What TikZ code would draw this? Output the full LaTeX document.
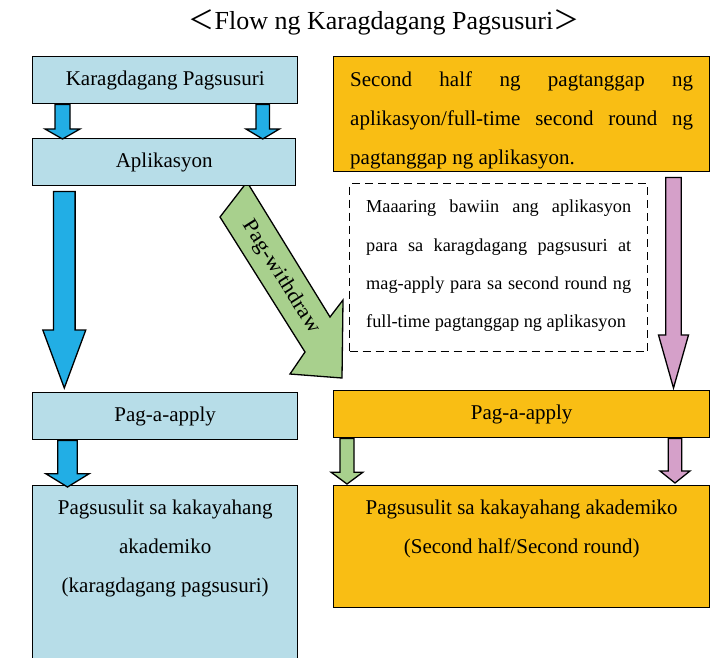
\documentclass[tikz,border=0pt]{standalone}
\usepackage{fontspec}
\setmainfont{Liberation Serif}
\newfontfamily\cjk{Noto Sans CJK JP}
\usepackage{tikz}
\usetikzlibrary{positioning, calc}
\definecolor{boxblue}{HTML}{B7DDE8}
\definecolor{arrowblue}{HTML}{22AEE5}
\definecolor{boxorange}{HTML}{F9BE14}
\definecolor{arrowgreen}{HTML}{A8D08D}
\definecolor{arrowpink}{HTML}{D5A0C9}
\tikzset{every node/.style={ % Sets the properties for each node
    inner sep=0pt,
    font={\fontsize{21}{39}\selectfont}},
    box/.style={draw, line width=1.4pt, anchor=north west},
    bluebox/.style={box, fill=boxblue},
    orangebox/.style={box, fill=boxorange},
    notebox/.style={draw, line width=1.4pt, dash pattern=on 8pt off 5pt, anchor=north west},
    fatarrow/.style={draw, line width=1.3pt, line join=miter}}
% block arrow: start, tip, shaft half width, head half width, head length, colour
\newcommand{\fatarrow}[6]{%
    \draw[fatarrow, fill=#6] ($(#1)+(-#3,0)$) -- ($(#2)+(-#3,-#5)$) -- ($(#2)+(-#4,-#5)$)
        -- (#2) -- ($(#2)+(#4,-#5)$) -- ($(#2)+(#3,-#5)$) -- ($(#1)+(#3,0)$) -- cycle;}

\begin{document}
\begin{tikzpicture}[x=1pt, y=-1pt]
    \useasboundingbox (0,0) rectangle (728,658);
    \node[font={\fontsize{26}{30}\selectfont}] (title) at (384,22)
        {{\cjk ＜}Flow ng Karagdagang Pagsusuri{\cjk ＞}};

    % Withdraw arrow (behind the box)
    \draw[fatarrow, fill=arrowgreen] (247,182) -- (330,317) -- (343,300) -- (342,378)
        -- (290,374) -- (305,352) -- (220,217) -- cycle;
    \node[rotate=-57.7, xscale=1.1] (withdraw) at (281,277) {Pag-withdraw};

    % Left column
    \node[bluebox, minimum width=265, minimum height=47] (kp) at (32,56) {Karagdagang Pagsusuri};
    \node[bluebox, minimum width=263, minimum height=47] (apl) at (32,138) {Aplikasyon};
    \node[bluebox, minimum width=265, minimum height=47] (apply1) at (32,392) {Pag-a-apply};
    \node[bluebox, minimum width=265, minimum height=190] (exam1) at (32,485) {};
    \node[align=center, anchor=north] (exam1text) at ([yshift=-15]exam1.north)
        {Pagsusulit sa kakayahang\\akademiko\\(karagdagang pagsusuri)};

    % Right column
    \node[orangebox, minimum width=376, minimum height=115] (sh) at (333,56) {};
    \node[text width=343, align=justify, anchor=north] (shtext) at ([yshift=-15.5]sh.north)
        {Second half ng pagtanggap ng\linebreak aplikasyon/full-time second round ng\linebreak pagtanggap ng aplikasyon.};
    \node[notebox, minimum width=298, minimum height=168] (note) at (349,183) {};
    \node[text width=265, align=justify, anchor=north, font={\fontsize{18.3}{38.3}\selectfont}]
        (notetext) at ([yshift=-17]note.north)
        {Maaaring bawiin ang aplikasyon\linebreak para sa karagdagang pagsusuri at\linebreak
         mag-apply para sa second round ng\linebreak full-time pagtanggap ng aplikasyon};
    \node[orangebox, minimum width=376, minimum height=47] (apply2) at (333,390) {Pag-a-apply};
    \node[orangebox, minimum width=376, minimum height=122] (exam2) at (333,485) {};
    \node[align=center, anchor=north] (exam2text) at ([yshift=-15]exam2.north)
        {Pagsusulit sa kakayahang akademiko\\(Second half/Second round)};

    % Arrows
    \coordinate (a1s) at ([xshift=30.5]kp.south west);
    \coordinate (a1e) at ([xshift=30.5, yshift=-1]apl.north west);
    \fatarrow{a1s}{a1e}{7.5}{17.5}{10}{arrowblue}
    \coordinate (a2s) at ([xshift=230.7]kp.south west);
    \coordinate (a2e) at ([xshift=230.7, yshift=-1]apl.north west);
    \fatarrow{a2s}{a2e}{6.7}{16.7}{10}{arrowblue}
    \coordinate (a3s) at ([xshift=32.3, yshift=-5]apl.south west);
    \coordinate (a3e) at ([xshift=32.3, yshift=4]apply1.north west);
    \fatarrow{a3s}{a3e}{10.8}{21.5}{58}{arrowblue}
    \coordinate (a4s) at ([xshift=35.5]apply1.south west);
    \coordinate (a4e) at ([xshift=35.5, yshift=-2]exam1.north west);
    \fatarrow{a4s}{a4e}{9.7}{21.7}{13.3}{arrowblue}
    \coordinate (a5s) at ([xshift=340.5, yshift=-5]sh.south west);
    \coordinate (a5e) at ([xshift=340.5, yshift=2]apply2.north west);
    \fatarrow{a5s}{a5e}{7.8}{15}{53}{arrowpink}
    \coordinate (a6s) at ([xshift=14]apply2.south west);
    \coordinate (a6e) at ([xshift=14, yshift=1]exam2.north west);
    \fatarrow{a6s}{a6e}{7}{15.8}{11.7}{arrowgreen}
    \coordinate (a7s) at ([xshift=342]apply2.south west);
    \coordinate (a7e) at ([xshift=342, yshift=2]exam2.north west);
    \fatarrow{a7s}{a7e}{6.8}{15}{12}{arrowpink}
\end{tikzpicture}
\end{document}
